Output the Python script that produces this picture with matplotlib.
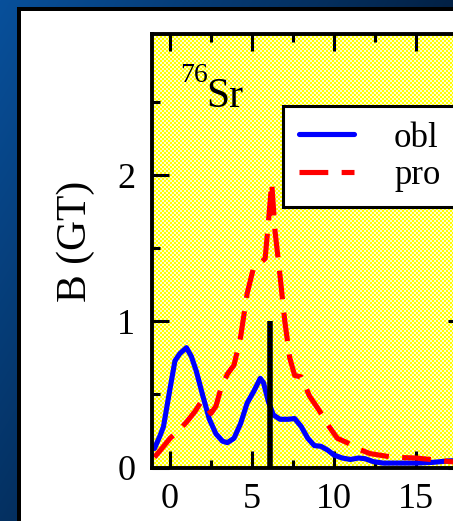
import numpy as np
import matplotlib
matplotlib.use("Agg")
import matplotlib.pyplot as plt

# Gamow-Teller strength distributions for 76Sr
energy_obl = [-0.95, -0.6, -0.4, 0.0, 0.3, 0.6, 1.0, 1.3, 1.6, 2.0, 2.4, 2.8, 3.2,
              3.5, 3.9, 4.3, 4.7, 5.1, 5.5, 5.7, 6.0, 6.3, 6.7, 7.2, 7.6, 8.0,
              8.4, 8.8, 9.2, 9.6, 10.0, 10.5, 11.0, 11.5, 11.9, 12.4, 13.0,
              14.0, 15.0, 16.0, 17.0, 18.0]
strength_obl = [0.13, 0.22, 0.28, 0.54, 0.73, 0.78, 0.82, 0.76, 0.66, 0.49, 0.33,
                0.23, 0.18, 0.17, 0.20, 0.30, 0.44, 0.52, 0.61, 0.58, 0.45, 0.36,
                0.33, 0.33, 0.335, 0.28, 0.20, 0.15, 0.145, 0.12, 0.085, 0.065,
                0.055, 0.065, 0.06, 0.04, 0.03, 0.03, 0.03, 0.035, 0.045, 0.05]

energy_pro = [-0.95, -0.5, 0.0, 0.5, 1.0, 1.5, 1.9, 2.2, 2.5, 2.8, 3.1, 3.5, 3.9,
              4.3, 4.7, 5.1, 5.5, 5.8, 6.0, 6.2, 6.4, 6.7, 7.0, 7.3, 7.6, 8.0,
              8.5, 9.1, 9.7, 10.2, 10.8, 11.4, 12.2, 13.6, 15.0, 16.3, 17.1, 18.0]
strength_pro = [0.07, 0.13, 0.20, 0.25, 0.31, 0.38, 0.45, 0.42, 0.37, 0.42, 0.54,
                0.64, 0.70, 0.89, 1.19, 1.37, 1.40, 1.43, 1.68, 1.95, 1.62, 1.32,
                1.00, 0.75, 0.63, 0.62, 0.49, 0.39, 0.28, 0.20, 0.17, 0.13, 0.095,
                0.07, 0.065, 0.05, 0.04, 0.035]

exp_energy = [6.1]
exp_strength = [1.0]

x_ticks = [0, 5, 10, 15]
y_ticks = [0, 1, 2]

W, H = 453, 521
DPI = 100
fig = plt.figure(figsize=(W / DPI, H / DPI), dpi=DPI)

# plot frame in pixels (left, top, right, bottom)
ax_l, ax_t, ax_r, ax_b = 152, 33.5, 465.2, 467.5

# slide backdrop: blue gradient, bordered white panel, dotted yellow plot area
yy, xx = np.mgrid[0:H, 0:W]
t = np.clip(0.9 * xx / W + 0.6 * yy / H, 0, 1)[..., None]
c0 = np.array([8, 80, 155]) / 255
c1 = np.array([2, 28, 60]) / 255
bg = c0 * (1 - t) + c1 * t
panel = (xx >= 17) & (yy >= 7)
bg[panel] = 0.0
inner = (xx >= 21) & (yy >= 11)
bg[inner] = 1.0
plot_area = (xx >= int(ax_l)) & (xx < W) & (yy >= int(ax_t)) & (yy <= int(ax_b))
checker = ((xx // 2 + yy // 2) % 2 == 0)
yellow = np.array([1.0, 1.0, 0.0])
pale = np.array([1.0, 1.0, 0.80])
bg[plot_area & checker] = yellow
bg[plot_area & ~checker] = pale
fig.figimage(bg, xo=0, yo=0, origin="upper", zorder=-1)

ax = fig.add_axes([ax_l / W, 1 - ax_b / H, (ax_r - ax_l) / W, (ax_b - ax_t) / H])
ax.patch.set_alpha(0)

lw = 3.7
ax.plot(energy_obl, strength_obl, color="#0000ff", lw=lw, label="obl",
        solid_joinstyle="round", solid_capstyle="round")
ax.plot(energy_pro, strength_pro, color="#ff0000", lw=lw, label="pro",
        dashes=(5.6, 2.6))
ax.vlines(exp_energy, 0, exp_strength, color="black", linewidth=4.0)

ax.set_xlim(-1.1, 18.0)
ax.set_ylim(0, 2.97)
ax.set_xticks(x_ticks)
ax.set_yticks(y_ticks)
ax.set_xticks([2.5, 7.5, 12.5, 17.5], minor=True)
ax.set_yticks([0.5, 1.5, 2.5], minor=True)

serif = "Liberation Serif"
for sp in ax.spines.values():
    sp.set_linewidth(2.8)
ax.tick_params(which="both", direction="in", top=True, right=True, width=2.2)
ax.tick_params(which="major", length=12)
ax.tick_params(which="minor", length=6)
ax.tick_params(axis="y", pad=12)
ax.tick_params(axis="x", pad=11)
for lab in ax.get_xticklabels() + ax.get_yticklabels():
    lab.set_fontfamily(serif)
    lab.set_fontsize(26)

ax.set_ylabel("B (GT)", fontfamily=serif, fontsize=30)
ax.yaxis.label.set_va("center")
ax.yaxis.set_label_coords(76 / W, 1 - 241 / H, transform=fig.transFigure)

fig.text(180 / W, 1 - 82 / H, "76", fontfamily=serif, fontsize=20,
         ha="left", va="baseline")
fig.text(206 / W, 1 - 107 / H, "Sr", fontfamily=serif, fontsize=30,
         ha="left", va="baseline")

leg = ax.legend(loc="upper left", bbox_to_anchor=(283 / W, 1 - 106 / H),
                bbox_transform=fig.transFigure, borderaxespad=0,
                prop={"family": serif, "size": 25}, frameon=True,
                fancybox=False, edgecolor="black", framealpha=1,
                handlelength=1.6, handletextpad=1.15, borderpad=0.45,
                labelspacing=0.12)
leg.get_frame().set_linewidth(2.2)

fig.savefig("out.png", dpi=DPI)
